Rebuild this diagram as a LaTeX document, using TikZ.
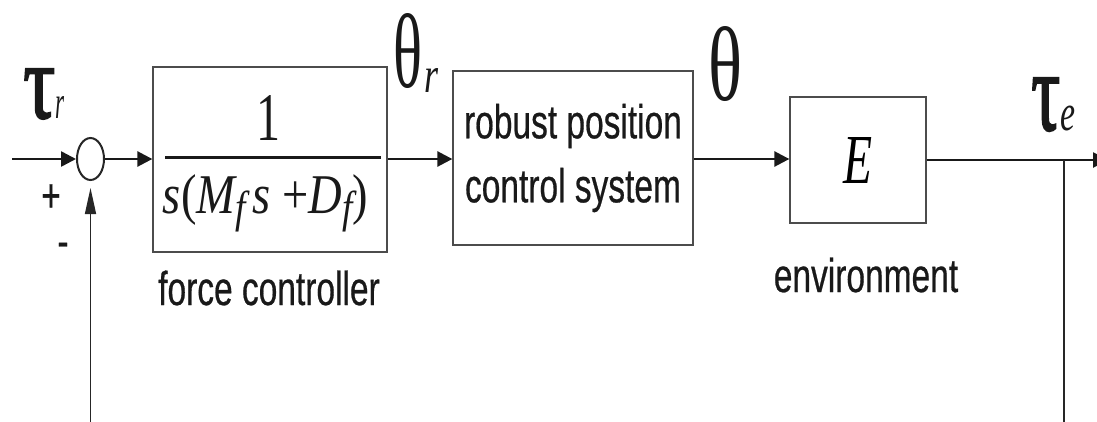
\documentclass[tikz,border=0pt]{standalone}
\usepackage{fontspec}
\usepackage{graphicx}
\setmainfont{Liberation Sans}[FakeBold=0.6]
\newfontfamily\serf{Liberation Serif}
\newfontfamily\serfb{Liberation Serif}[FakeBold=2]
\usetikzlibrary{arrows.meta,shapes.geometric}
\newcommand\tall[1]{\scalebox{1}[1.42]{#1}}
\newcommand\denom{\serf\itshape s\upshape(\itshape M\raisebox{-0.17em}{\fontsize{8}{8}\selectfont f}\hspace{0.15em}s \upshape+\itshape D\raisebox{-0.17em}{\fontsize{8}{8}\selectfont f}\upshape)}
\begin{document}
\begin{tikzpicture}[x=1pt,y=-1pt,
  sig/.style={line width=2.6pt, draw=black!90, -{Triangle[length=15pt,width=15pt]}},
  fb/.style={line width=1.5pt, draw=black!85, -{Triangle[length=26pt,width=11pt]}},
  blk/.style={draw=black!70, line width=1.3pt, inner sep=0pt},
  lbl/.style={font=\fontsize{33.5}{40}\selectfont, inner sep=0pt, text=black!90},
  sym/.style={inner sep=0pt, text=black!90},
]
\useasboundingbox (0,0) rectangle (1097,421);
\clip (0,0) rectangle (1097,421);
\fill[white] (0,0) rectangle (1097,421);

% blocks
\node[blk, minimum width=234pt, minimum height=185pt] (ctrl) at (270,159.5) {};
\node[blk, minimum width=240pt, minimum height=174pt, font=\fontsize{33.5}{64}\selectfont, align=center, text=black!90] (pos) at (573,158)
  {\raisebox{-9pt}{\tall{robust position}}\\\raisebox{-9pt}{\tall{control system}}};
\node[blk, minimum width=136pt, minimum height=126pt] (env) at (858,160)
  {\resizebox*{29pt}{46pt}{\serf\itshape E}};
\node[draw=black!85, ellipse, line width=2pt, minimum width=27pt, minimum height=42pt, inner sep=0pt] (sum) at (90.5,159) {};

% fraction in the force controller
\node[sym, anchor=base] (num) at (268,140) {\resizebox*{24pt}{45pt}{\serf 1}};
\node[sym, anchor=base] (den) at (265.5,213) {\resizebox*{205pt}{58pt}{\denom}};
\draw[line width=3pt, black!90] (165,157) -- (381,157);

% signals
\coordinate (in) at (12,159);
\coordinate (junc) at (1064,160);
\coordinate (out) at (1108,160);
\draw[sig] (in) -- (sum.west);
\draw[sig] (sum.east) -- (ctrl.west |- sum.east);
\draw[sig] (ctrl.east |- sum.east) -- (pos.west |- sum.east);
\draw[sig] (pos.east |- sum.east) -- (env.west |- sum.east);
\draw[sig] (env.east) -- (out);
\draw[fb, shorten >=7pt] (junc) -- (1064,445) -| (sum.south);

% labels
\node[sym, anchor=base west] (taur) at (23,118) {\resizebox*{32pt}{50pt}{\serfb τ}\resizebox*{9pt}{22pt}{\serf\itshape r}};
\node[sym, anchor=base west] (thr) at (393,87) {\resizebox*{29pt}{75pt}{\serf θ}\hspace{2pt}\raisebox{-5pt}{\resizebox*{14pt}{24pt}{\serf\itshape r}}};
\node[sym, anchor=base west] (th) at (708,100) {\resizebox*{34pt}{75pt}{\serf θ}};
\node[sym, anchor=base west] (taue) at (1031,130) {\resizebox*{29pt}{53pt}{\serfb τ}\resizebox*{15pt}{25pt}{\serf\itshape e}};
\node[lbl] (plus) at (51,198) {\tall{+}};
\node[lbl] (minus) at (63,250) {\tall{-}};
\node[lbl, anchor=base] (fc) at (269,305) {\tall{force controller}};
\node[lbl, anchor=base] (envl) at (866,292) {\tall{environment}};
\end{tikzpicture}
\end{document}
